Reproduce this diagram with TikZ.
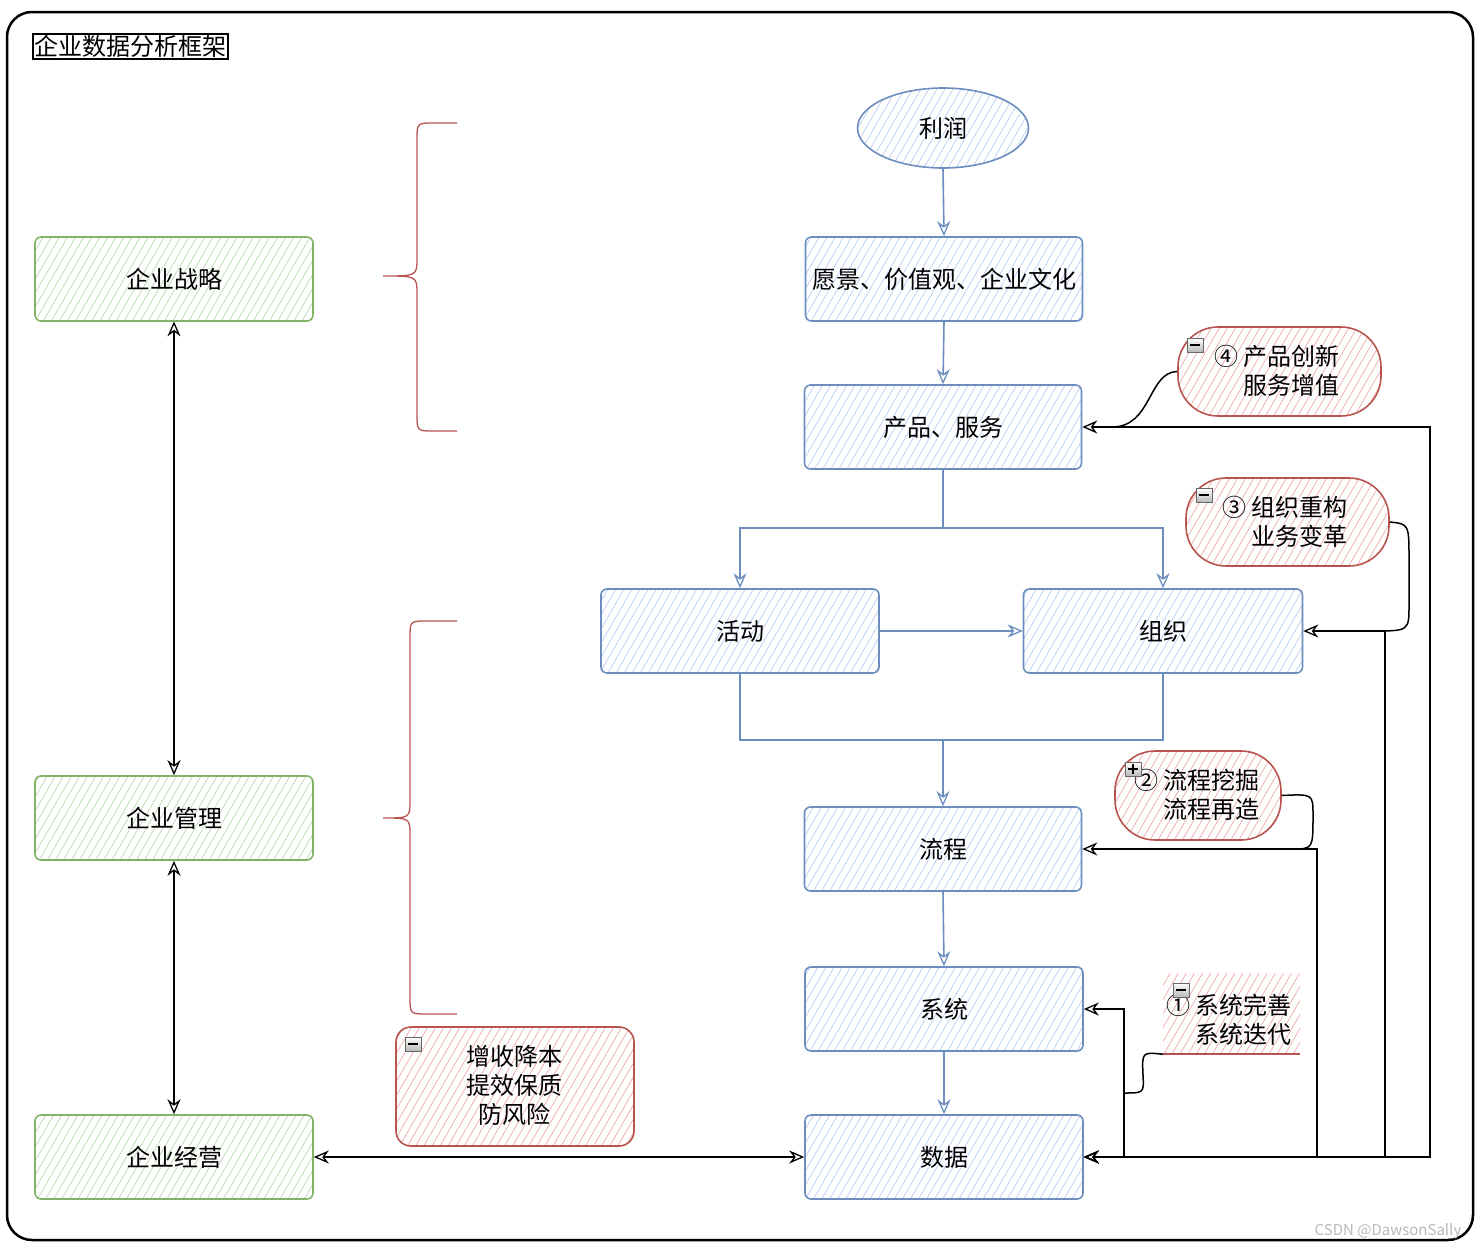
\documentclass[tikz,border=0pt]{standalone}
\usepackage{fontspec}
\setmainfont{Noto Sans CJK SC}
\usetikzlibrary{shapes.geometric,arrows.meta,patterns.meta,calc}
\definecolor{bluebd}{HTML}{6C8EBF}
\definecolor{bluefl}{HTML}{B5CCF0}
\definecolor{greenbd}{HTML}{82B366}
\definecolor{greenfl}{HTML}{B5D6AE}
\definecolor{redbd}{HTML}{B85450}
\definecolor{redfl}{HTML}{EBAAA7}
\tikzset{
  every node/.style={font=\fontsize{24}{29}\selectfont},
  hatch/.style={pattern={Lines[angle=60,distance=7pt,line width=0.7pt]}},
  bbox/.style={draw=bluebd, line width=1.6pt, rounded corners=6pt, minimum width=277pt, minimum height=84pt, hatch, pattern color=bluefl},
  gbox/.style={draw=greenbd, line width=1.6pt, rounded corners=6pt, minimum width=278pt, minimum height=84pt, hatch, pattern color=greenfl},
  rbox/.style={draw=redbd, line width=1.6pt, hatch, pattern color=redfl, align=center},
  tip/.style={Stealth[open,length=15pt,width=13pt,line width=1.3pt]},
  barrow/.style={draw=bluebd, line width=1.6pt, -{Stealth[open,length=15pt,width=13pt,line width=1.3pt]}},
  bline/.style={draw=bluebd, line width=1.6pt},
  karrow/.style={draw=black, line width=1.5pt, {Stealth[open,length=15pt,width=13pt,line width=1.3pt]}-{Stealth[open,length=15pt,width=13pt,line width=1.3pt]}},
  kline/.style={draw=black, line width=1.5pt},
  brace/.style={draw=redbd, line width=1.3pt},
  iconbox/.style={draw=gray!80!black, line width=0.8pt, top color=white, bottom color=gray!55, minimum width=16pt, minimum height=14pt, inner sep=0pt},
  txt/.style={align=right, inner sep=0pt}
}
\begin{document}
\begin{tikzpicture}[x=1pt,y=-1pt]
\useasboundingbox (0,0) rectangle (1480,1250);
% outer frame
\node[draw=black, line width=2.5pt, rounded corners=25pt, minimum width=1466pt, minimum height=1228pt, inner sep=0pt] (frame) at (740,626) {};
\node[draw=black, line width=1.6pt, inner sep=1.5pt] (title) at (130.5,46.5) {企业数据分析框架};

% green boxes
\node[gbox] (zl) at (174,279) {企业战略};
\node[gbox] (gl) at (174,818) {企业管理};
\node[gbox] (jy) at (174,1157) {企业经营};
\draw[karrow] (zl.south) -- (gl.north);
\draw[karrow] (gl.south) -- (jy.north);

% braces
\draw[brace] (457,123) -- (434,123) .. controls (417,123) .. (417,140) -- (417,258) .. controls (417,276) .. (383,276)
  .. controls (417,276) .. (417,294) -- (417,414) .. controls (417,431) .. (434,431) -- (457,431);
\draw[brace] (457,621) -- (427,621) .. controls (410,621) .. (410,638) -- (410,800) .. controls (410,818) .. (383,818)
  .. controls (410,818) .. (410,836) -- (410,997) .. controls (410,1014) .. (427,1014) -- (457,1014);

% blue nodes
\node[ellipse, draw=bluebd, line width=1.6pt, minimum width=171pt, minimum height=80pt, hatch, pattern color=bluefl] (lr) at (943,128) {利润};
\node[bbox] (yj) at (944,279) {愿景、价值观、企业文化};
\node[bbox] (cp) at (943,427) {产品、服务};
\node[bbox, minimum width=278pt] (hd) at (740,631) {活动};
\node[bbox, minimum width=279pt] (zz) at (1163,631) {组织};
\node[bbox] (lc) at (943,849) {流程};
\node[bbox, minimum width=278pt] (xt) at (944,1009) {系统};
\node[bbox, minimum width=278pt] (sj) at (944,1157) {数据};

% blue connectors
\draw[barrow] (lr.south) -- (yj.north);
\draw[barrow] (yj.south) -- (cp.north);
\coordinate (split) at (943,528);
\draw[bline] (cp.south) -- (split);
\draw[barrow] (split) -| (hd.north);
\draw[barrow] (split) -| (zz.north);
\draw[barrow] (hd.east) -- (zz.west);
\coordinate (merge) at (943,740);
\draw[bline] (hd.south) |- (merge);
\draw[bline] (zz.south) |- (merge);
\draw[barrow] (merge) -- (lc.north);
\draw[barrow] (lc.south) -- (xt.north);
\draw[barrow] (xt.south) -- (sj.north);

% black connectors
\draw[karrow] (jy.east) -- (sj.west);
\draw[karrow] (sj.east) -- (1124,1157) -- (1124,1009) -- (xt.east);
\draw[karrow] (sj.east) -- (1317,1157) -- (1317,849) -- (lc.east);
\draw[karrow] (sj.east) -- (1385,1157) -- (1385,631) -- (zz.east);
\draw[karrow] (sj.east) -- (1430,1157) -- (1430,427) -- (cp.east);

% red callouts
\node[rbox, rounded corners=40pt, minimum width=203pt, minimum height=89pt] (c4) at (1279.5,371.5) {};
\node[txt] (t4) at (1277,371) {④ 产品创新\\服务增值};
\node[rbox, rounded corners=40pt, minimum width=203pt, minimum height=88pt] (c3) at (1287.5,522) {};
\node[txt] (t3) at (1285,522) {③ 组织重构\\业务变革};
\node[rbox, rounded corners=40pt, minimum width=166pt, minimum height=89pt] (c2) at (1198,795.5) {};
\node[txt] (t2) at (1197,795) {② 流程挖掘\\流程再造};
\node[hatch, pattern color=redfl, minimum width=137pt, minimum height=81pt, inner sep=0pt] (c1) at (1231.5,1013.5) {};
\draw[draw=redbd, line width=1.6pt] (c1.south west) -- (c1.south east);
\node[txt] (t1) at (1229,1020) {① 系统完善\\系统迭代};
\node[rbox, rounded corners=15pt, minimum width=238pt, minimum height=119pt] (c0) at (515,1086.5) {};
\node[align=center, inner sep=0pt] (t0) at (514,1085) {增收降本\\提效保质\\防风险};

% callout links
\draw[kline] (c4.west) .. controls (1148,372) and (1152,427) .. (1112,427);
\draw[kline] (c3.east) .. controls (1409,524) .. (1409,560) -- (1409,605) .. controls (1409,631) .. (1372,631);
\draw[kline] (c2.east) .. controls (1313,794) .. (1313,815) .. controls (1313,849) .. (1292,849);
\draw[kline] (c1.south west) .. controls (1142,1052) .. (1143,1075) .. controls (1144,1093) .. (1124,1093);

% icons
\node[iconbox] (i4) at (1195,345) {};
\node[iconbox] (i3) at (1204,495) {};
\node[iconbox] (i2) at (1133,769) {};
\node[iconbox] (i1) at (1181,990) {};
\node[iconbox] (i0) at (413,1044) {};
\foreach \i in {i4,i3,i2,i1,i0}
  \draw[line width=1.6pt] ($(\i.center)+(-5,0)$) -- ($(\i.center)+(5,0)$);
\draw[line width=1.6pt] ($(i2.center)+(0,-5)$) -- ($(i2.center)+(0,5)$);

% watermark
\node[font=\fontsize{15}{17}\selectfont, text=gray!55, inner sep=0pt] (wm) at (1388,1231) {CSDN @DawsonSally};
\end{tikzpicture}
\end{document}
